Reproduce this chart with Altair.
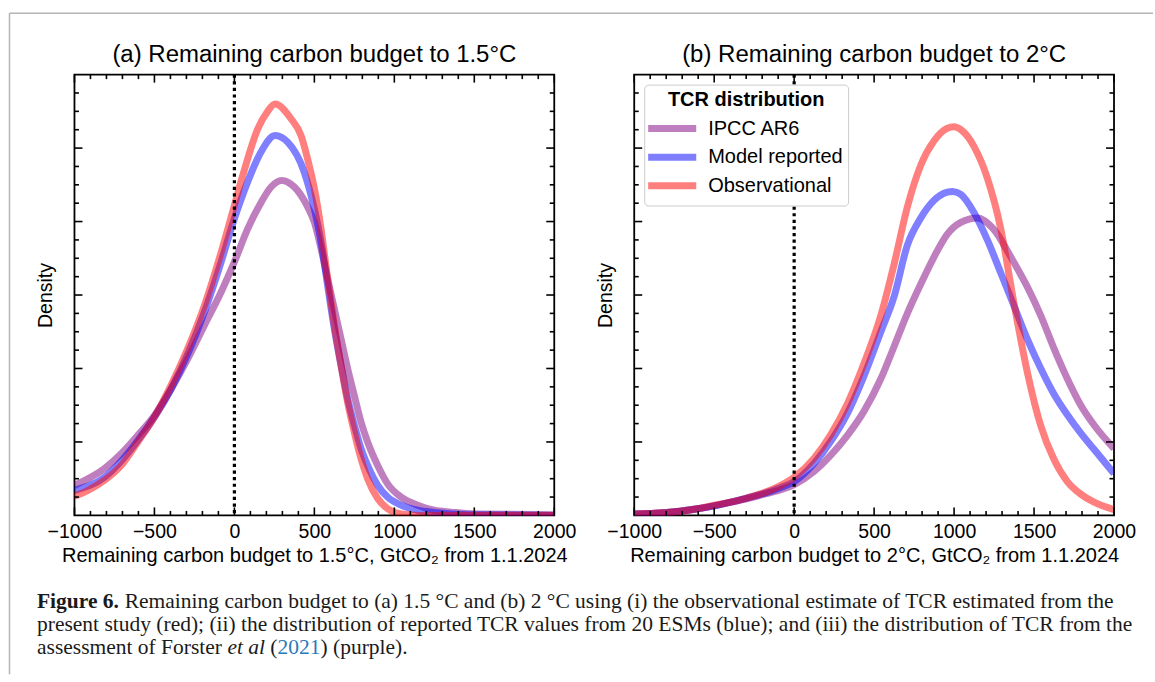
import altair as alt
import pandas as pd

SERIES = ["IPCC AR6", "Model reported", "Observational"]
COLORS = ["#800080", "#0000ff", "#ff0000"]

# ---------------- Panel (a): remaining carbon budget to 1.5 °C ----------------
A_IPCC_X = [-1000, -812, -708, -604, -500, -396, -292, -187, -83, 0, 83, 167, 229, 296, 375,
            458, 500, 542, 583, 625, 667, 708, 750, 792, 833, 896, 958, 1042, 1146, 1250,
            1354, 1500, 2000]
A_IPCC_Y = [0.41, 0.64, 0.84, 1.09, 1.36, 1.72, 2.13, 2.59, 3.04, 3.45, 3.90, 4.26, 4.47, 4.56, 4.47,
            4.20, 3.99, 3.63, 3.22, 2.81, 2.40, 2.00, 1.63, 1.27, 1.00, 0.68, 0.43, 0.25, 0.14, 0.07,
            0.045, 0.02, 0.01]

A_MODEL_X = [-1000, -812, -604, -396, -187, -83, 0, 83, 167, 254, 333, 437, 500, 542, 583,
             625, 667, 708, 750, 792, 833, 896, 958, 1042, 1146, 1250, 1458, 2000]
A_MODEL_Y = [0.34, 0.52, 1.02, 1.72, 2.77, 3.45, 4.04, 4.54, 4.95, 5.17, 5.08, 4.67, 4.17, 3.72, 3.13,
             2.54, 2.04, 1.59, 1.23, 0.91, 0.68, 0.41, 0.25, 0.14, 0.07, 0.04, 0.01, 0.0]

A_OBS_X = [-1000, -916, -812, -708, -604, -500, -396, -292, -187, -83, 0, 62, 146, 208, 254,
           354, 417, 458, 500, 542, 583, 625, 667, 708, 750, 792, 833, 896, 958, 1042,
           1150, 1500, 2000]
A_OBS_Y = [0.26, 0.34, 0.48, 0.68, 1.00, 1.34, 1.77, 2.27, 2.86, 3.58, 4.22, 4.70, 5.26, 5.50, 5.60,
           5.40, 5.17, 4.85, 4.45, 3.90, 3.22, 2.59, 2.04, 1.54, 1.13, 0.77, 0.50, 0.23, 0.09, 0.02,
           0.0, 0.0, 0.0]

# ---------------- Panel (b): remaining carbon budget to 2 °C ----------------
B_IPCC_X = [-1000, -812, -604, -500, -396, -292, -187, -83, 0, 125, 229, 333, 437, 542, 625,
            708, 792, 875, 958, 1042, 1146, 1250, 1354, 1458, 1542, 1625, 1708, 1792, 1875, 2000]
B_IPCC_Y = [0.02, 0.035, 0.09, 0.13, 0.18, 0.23, 0.29, 0.35, 0.42, 0.60, 0.82, 1.09, 1.42, 1.86, 2.30,
            2.75, 3.15, 3.52, 3.83, 3.99, 4.05, 3.89, 3.52, 3.11, 2.72, 2.27, 1.86, 1.50, 1.23, 0.91]

B_MODEL_X = [-1000, -812, -604, -500, -396, -292, -187, -83, 0, 125, 229, 333, 437, 542, 625,
             708, 792, 875, 958, 990, 1042, 1125, 1208, 1292, 1375, 1458, 1542, 1625, 1708, 1792,
             1875, 2000]
B_MODEL_Y = [0.02, 0.035, 0.09, 0.13, 0.18, 0.24, 0.30, 0.38, 0.46, 0.71, 1.01, 1.39, 1.90, 2.50, 2.98,
             3.68, 4.05, 4.29, 4.40, 4.41, 4.37, 4.12, 3.75, 3.30, 2.85, 2.40, 2.00, 1.65, 1.37, 1.12,
             0.90, 0.57]

B_OBS_X = [-1000, -812, -604, -500, -396, -292, -187, -83, 0, 125, 229, 333, 437, 542, 625,
           708, 792, 875, 958, 1000, 1042, 1125, 1208, 1292, 1375, 1458, 1542, 1625, 1708, 1792,
           1875, 2000]
B_OBS_Y = [0.02, 0.035, 0.09, 0.14, 0.18, 0.24, 0.31, 0.41, 0.52, 0.78, 1.10, 1.52, 2.07, 2.72, 3.42,
           4.20, 4.77, 5.10, 5.27, 5.29, 5.25, 5.02, 4.59, 3.90, 2.88, 1.95, 1.22, 0.76, 0.46, 0.29,
           0.18, 0.08]

# ---------------- Axis tick positions ----------------
X_MAJOR = [-1000, -500, 0, 500, 1000, 1500, 2000]
X_MINOR = [-900, -800, -700, -600, -400, -300, -200, -100, 100, 200, 300, 400,
           600, 700, 800, 900, 1100, 1200, 1300, 1400, 1600, 1700, 1800, 1900]
Y_MAJOR = [1, 2, 3, 4, 5]
Y_MINOR = [0.25, 0.5, 0.75, 1.25, 1.5, 1.75, 2.25, 2.5, 2.75, 3.25, 3.5, 3.75,
           4.25, 4.5, 4.75, 5.25, 5.5, 5.75]
ZERO_LINE = [0]

TITLE_A = "(a) Remaining carbon budget to 1.5°C"
TITLE_B = "(b) Remaining carbon budget to 2°C"
XTITLE_A = "Remaining carbon budget to 1.5°C, GtCO₂ from 1.1.2024"
XTITLE_B = "Remaining carbon budget to 2°C, GtCO₂ from 1.1.2024"

CAP_BOLD = "Figure 6."
CAP_L1 = ("Remaining carbon budget to (a) 1.5 °C and (b) 2 °C using (i) the observational "
          "estimate of TCR estimated from the")
CAP_L2 = ("present study (red); (ii) the distribution of reported TCR values from 20 ESMs "
          "(blue); and (iii) the distribution of TCR from the")
CAP_L3 = ["assessment of Forster", "et al", "(", "2021", ") (purple)."]

W, H = 480, 441
FONT = "Liberation Sans"
SERIF = "Liberation Serif"
CAP_FS = 21.5

XS = alt.Scale(domain=[-1000, 2000], nice=False, zero=False)
YS = alt.Scale(domain=[0, 6], nice=False, zero=False)

X_AXIS = alt.Axis(values=X_MAJOR, format="d", ticks=False, tickSize=0, domain=False,
                  grid=False, labelFontSize=19.5, labelPadding=7, labelColor="black",
                  labelFont=FONT, labelFlush=False, labelOverlap=False,
                  titleFontSize=20, titleFontWeight="normal", titlePadding=5,
                  titleColor="black", titleFont=FONT)
Y_AXIS = alt.Axis(labels=False, ticks=False, tickSize=0, domain=False, grid=False,
                  titleFontSize=19.5, titleFontWeight="normal", titlePadding=19,
                  titleColor="black", titleFont=FONT)


def curves(xs_list, ys_list):
    rows = []
    for name, xs, ys in zip(SERIES, xs_list, ys_list):
        rows += [{"x": a, "y": b, "series": name} for a, b in zip(xs, ys)]
    return pd.DataFrame(rows)


def panel(df, title, xtitle, legend, extra=()):
    def xe(field):
        return alt.X(field, scale=XS, axis=X_AXIS, title=xtitle)

    def ye(field):
        return alt.Y(field, scale=YS, axis=Y_AXIS, title="Density")

    lines = alt.Chart(df).mark_line(strokeWidth=7, strokeOpacity=0.5,
                                    interpolate="monotone", clip=True).encode(
        x=xe("x:Q"), y=ye("y:Q"),
        color=alt.Color("series:N", scale=alt.Scale(domain=SERIES, range=COLORS),
                        legend=legend, sort=SERIES),
    )
    zero = alt.Chart(pd.DataFrame({"x": ZERO_LINE})).mark_rule(
        color="black", strokeWidth=3.2, strokeDash=[3.2, 3.4]).encode(x=xe("x:Q"))

    ticks = []
    for vals, ln in [(X_MAJOR, 8), (X_MINOR, 4.5)]:
        base = alt.Chart(pd.DataFrame({"v": vals})).mark_rule(color="black", strokeWidth=1.6)
        ticks.append(base.encode(x=xe("v:Q"), y=alt.value(H), y2=alt.value(H - ln)))
        ticks.append(base.encode(x=xe("v:Q"), y=alt.value(0), y2=alt.value(ln)))
    for vals, ln in [(Y_MAJOR, 8), (Y_MINOR, 4.5)]:
        base = alt.Chart(pd.DataFrame({"v": vals})).mark_rule(color="black", strokeWidth=1.6)
        ticks.append(base.encode(y=ye("v:Q"), x=alt.value(0), x2=alt.value(ln)))
        ticks.append(base.encode(y=ye("v:Q"), x=alt.value(W), x2=alt.value(W - ln)))

    head = alt.Chart(pd.DataFrame({"k": [0]})).mark_text(
        text=title, align="center", baseline="alphabetic", font=FONT, fontSize=24,
        color="black").encode(x=alt.value(W / 2), y=alt.value(-13))

    layers = [lines, zero] + ticks + [head] + list(extra)
    return alt.layer(*layers).properties(width=W, height=H)


one = pd.DataFrame({"k": [0]})


def cap(text, x, y, **kw):
    return alt.Chart(one).mark_text(text=text, align="left", baseline="alphabetic",
                                    font=SERIF, fontSize=CAP_FS, **kw).encode(
        x=alt.value(x), y=alt.value(y))


cx = -37.5
cy1, cy2, cy3 = 534.0, 557.0, 580.0
extras = [
    alt.Chart(one).mark_rule(color="#b4b4b4", strokeWidth=1.5).encode(
        x=alt.value(-65), y=alt.value(-61.5), y2=alt.value(600)),
    alt.Chart(one).mark_rule(color="#b4b4b4", strokeWidth=1.5).encode(
        x=alt.value(-65), x2=alt.value(1079), y=alt.value(-61.5)),
    cap(CAP_BOLD, cx, cy1, fontWeight="bold", color="#1a1a1a"),
    cap(CAP_L1, cx + 4.083 * CAP_FS, cy1, color="#1a1a1a"),
    cap(CAP_L2, cx, cy2, color="#1a1a1a"),
    cap(CAP_L3[0], cx, cy3, color="#1a1a1a"),
    cap(CAP_L3[1], cx + 8.86 * CAP_FS, cy3, fontStyle="italic", color="#1a1a1a"),
    cap(CAP_L3[2], cx + 10.86 * CAP_FS, cy3, color="#1a1a1a"),
    cap(CAP_L3[3], cx + 11.193 * CAP_FS, cy3, color="#2a7ab9"),
    cap(CAP_L3[4], cx + 13.193 * CAP_FS, cy3, color="#1a1a1a"),
]

legend_b = alt.Legend(
    title="TCR distribution", orient="top-left", offset=10, padding=5,
    fillColor="white", strokeColor="#cccccc", cornerRadius=4,
    titleFontSize=20, titleFontWeight="bold", titleFont=FONT, titleColor="black",
    titleAnchor="middle", titleAlign="center", titlePadding=9,
    labelFontSize=20, labelFont=FONT, labelColor="black", labelOffset=26,
    symbolType="M-3.7,0H3.7", symbolSize=169, symbolStrokeWidth=7, symbolOpacity=0.5,
    symbolOffset=13, rowPadding=0.6,
)

panel_a = panel(curves([A_IPCC_X, A_MODEL_X, A_OBS_X], [A_IPCC_Y, A_MODEL_Y, A_OBS_Y]),
                TITLE_A, XTITLE_A, None, extras)
panel_b = panel(curves([B_IPCC_X, B_MODEL_X, B_OBS_X], [B_IPCC_Y, B_MODEL_Y, B_OBS_Y]),
                TITLE_B, XTITLE_B, legend_b)

chart = alt.hconcat(panel_a, panel_b, spacing=80, bounds="flush").resolve_scale(
    color="independent").resolve_legend(color="independent").properties(
    padding={"left": 7.5, "top": 10.5, "right": 0, "bottom": 0},
    background="white",
).configure(font=FONT).configure_view(stroke="black", strokeWidth=1.8)

chart.save("out.html", embed_options={"renderer": "svg", "actions": False})
